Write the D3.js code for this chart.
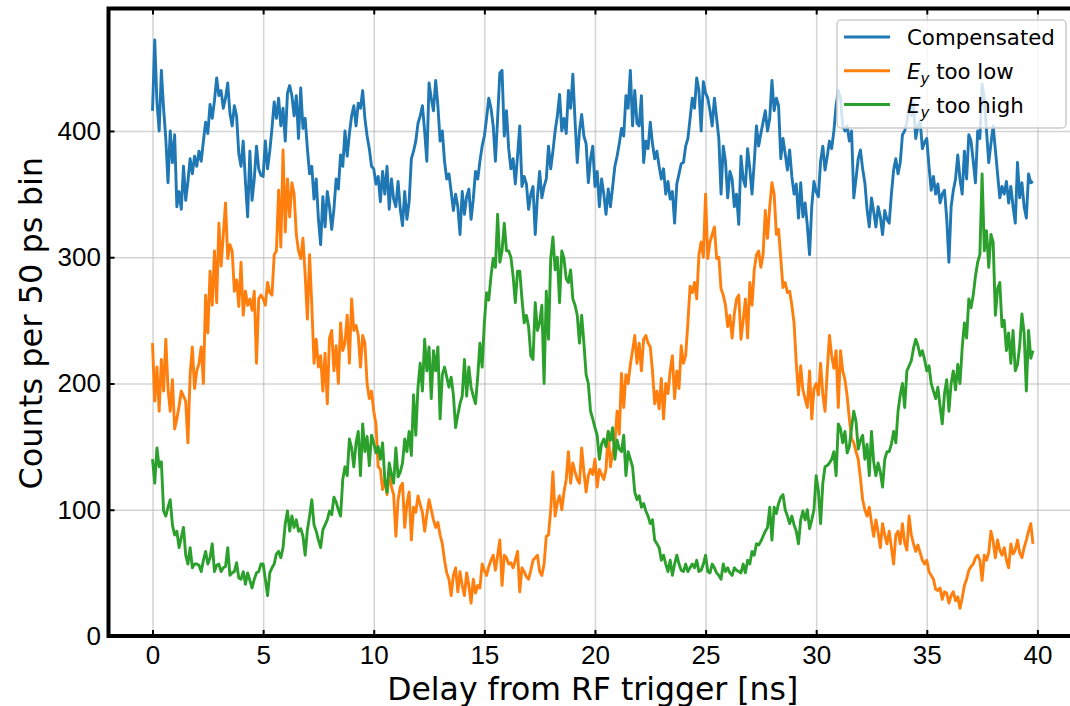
<!DOCTYPE html>
<html>
<head>
<meta charset="utf-8">
<script src="https://cdn.jsdelivr.net/npm/d3@7"></script>
<style>
  body { margin: 0; background: #fff; }
  svg { display: block; font-family: "DejaVu Sans", sans-serif; }
  .grid line { stroke: #b0b0b0; stroke-opacity: 0.55; stroke-width: 1.5; }
  .grid path { display: none; }
  .axis path { display: none; }
  .axis line { stroke: #000; stroke-width: 2; }
  .axis text { fill: #000; font-size: 26px; }
</style>
</head>
<body>
<svg id="chart"></svg>
<script>
// time bins in ns
const binWidth = 0.1;

// counts per bin
const compensated = [
  416,472,423,400,448,418,394,359,400,375, 397,340,352,338,372,345,360,378,366,380,
  372,384,376,392,407,398,421,410,424,442, 428,432,418,426,438,414,404,420,412,382,
  372,392,360,332,384,345,362,388,370,365, 364,392,370,384,402,423,410,426,404,418,
  392,430,436,428,412,428,394,434,402,410, 386,366,372,346,362,330,310,348,324,352,
  340,322,338,362,354,381,372,400,380,398, 412,420,404,422,418,432,410,396,386,372,
  370,358,364,344,368,350,372,338,362,346, 340,360,338,325,352,330,344,378,384,392,
  406,412,420,400,376,438,426,416,440,420, 392,400,376,362,366,352,337,350,340,318,
  352,334,348,354,330,346,368,362,376,388, 396,410,426,418,404,376,410,446,448,396,
  416,386,370,378,358,380,404,356,364,358, 338,350,356,318,348,368,347,356,362,388,
  370,384,400,412,429,400,410,398,432,418, 445,408,375,400,413,396,390,359,378,388,
  356,368,340,362,350,334,354,340,356,372, 380,390,402,396,428,418,448,404,432,406,
  404,428,375,392,386,407,390,378,384,372, 362,370,350,360,346,352,327,358,366,374,
  375,388,394,410,426,418,442,432,400,439, 430,426,416,404,426,410,394,350,388,376,
  347,368,362,340,350,326,380,362,356,386, 370,350,375,404,388,398,407,416,400,410,
  440,416,426,420,378,394,382,369,385,364, 350,358,331,359,332,343,325,302,340,360,
  352,348,376,388,369,380,392,386,400,420, 432,426,404,400,404,392,400,347,362,378,
  385,370,359,338,324,347,336,324,340,332, 318,337,330,327,350,369,378,366,375,397,
  400,407,420,412,422,394,404,408,386,391, 394,372,353,364,350,358,343,350,353,331,
  296,340,353,362,381,362,350,384,362,397, 392,376,359,400,394,437,426,400,375,390,
  404,385,366,347,356,350,360,343,356,340, 327,375,347,359,340,331,366,359,360
];

const eyTooLow = [
  232,186,213,178,219,194,235,196,178,203, 164,172,182,194,190,186,153,207,229,196,
  210,216,229,200,270,240,289,262,305,264, 327,293,318,343,299,310,305,273,282,261,
  296,254,273,262,267,258,273,216,267,270, 267,262,280,272,270,302,305,353,308,385,
  320,362,332,359,350,318,305,299,315,286, 251,302,262,216,235,213,222,194,224,184,
  236,242,210,230,200,248,226,232,254,216, 267,242,246,238,213,238,232,200,188,194,
  178,168,134,132,116,124,112,130,118,112, 79,108,118,121,86,105,114,76,102,98,
  111,104,98,83,96,108,100,92,86,90, 80,73,60,50,45,32,48,54,35,51,
  40,32,50,40,26,45,34,40,38,57, 52,48,55,60,64,52,64,76,40,64,
  62,57,58,54,60,67,35,54,51,47, 45,52,60,62,64,51,48,57,79,80,
  100,130,95,106,111,100,114,124,146,121, 137,130,124,121,149,130,114,127,132,128,
  140,118,132,128,124,132,162,134,145,153, 178,160,208,181,207,200,215,226,238,216,
  232,210,235,238,232,229,210,184,194,180, 204,172,200,192,210,222,188,210,196,230,
  216,222,248,277,272,280,267,302,312,300, 350,299,312,318,324,299,300,275,270,262,
  245,254,236,255,267,270,235,250,267,236, 280,262,290,302,305,292,302,337,315,340,
  359,350,318,322,299,276,280,272,273,262, 248,216,191,214,195,188,181,210,172,196,
  200,191,216,191,178,210,238,222,212,226, 181,226,210,203,190,172,156,153,146,140,
  125,108,100,95,102,90,79,92,82,70, 89,80,73,83,70,57,80,83,73,89,
  74,68,95,80,73,67,72,66,60,57, 60,51,48,45,37,36,38,29,35,34,
  26,32,35,28,31,22,30,40,45,52, 55,57,62,64,60,44,64,60,66,83,
  75,62,76,68,64,70,60,54,73,65, 68,76,66,62,70,76,83,89,73
];

const eyTooHigh = [
  140,121,149,134,138,99,95,102,108,88, 80,83,70,78,86,64,57,70,54,57,
  57,56,51,60,67,57,62,73,51,56, 57,51,54,55,70,48,50,51,58,46,
  45,51,41,50,44,38,45,50,51,57, 57,45,32,50,54,57,65,67,62,70,
  89,99,83,95,86,92,83,85,79,64, 84,95,108,88,83,76,70,84,88,92,
  99,96,110,106,100,95,124,134,127,156, 149,134,153,162,127,168,146,158,135,159,
  153,145,150,140,153,124,114,137,128,121, 149,126,130,137,156,146,162,143,191,159,
  197,216,194,235,210,229,188,226,210,229, 172,207,213,205,197,205,191,165,175,184,
  190,219,190,213,197,190,184,205,232,213, 248,272,266,285,299,292,334,296,305,327,
  305,305,300,285,264,289,289,267,248,254, 245,222,219,264,242,248,262,200,273,235,
  299,316,290,300,264,305,299,283,280,290, 267,262,254,232,254,232,207,200,178,172,
  165,159,140,152,156,150,162,155,165,140, 155,148,146,159,127,146,140,134,114,108,
  111,102,105,99,95,89,92,76,73,70, 60,64,57,51,60,48,57,64,57,52,
  51,57,51,54,57,54,60,51,52,57, 64,51,50,57,54,50,48,45,57,51,
  54,50,48,54,52,51,50,57,50,60, 57,67,64,73,72,75,79,83,86,102,
  76,102,97,105,110,112,100,95,89,95, 88,83,73,92,99,92,100,85,92,100,
  127,115,89,121,134,135,137,140,146,127, 168,164,153,162,145,150,165,178,170,148,
  155,159,140,152,127,162,138,127,137,130, 118,140,146,146,152,162,153,178,191,200,
  181,210,214,218,228,235,230,222,226,219, 210,214,200,194,188,197,182,168,192,203,
  178,200,210,195,215,200,228,248,236,267, 260,270,285,296,302,366,305,321,292,318,
  312,254,275,280,245,250,226,240,216,242, 210,215,230,255,240,194,242,220,226
];

const xTicks = [0, 5, 10, 15, 20, 25, 30, 35, 40];
const yTicks = [0, 100, 200, 300, 400];
const seriesKeys = ["compensated", "low", "high"];
const seriesColors = ["#1f77b4", "#ff7f0e", "#2ca02c"];

class DelayChart {
    constructor(_config, _data) {
        this.config = {
            parentElement: _config.parentElement,
            containerWidth: _config.containerWidth || 1070,
            containerHeight: _config.containerHeight || 706,
            margin: { top: 8.5, bottom: 70, right: -7, left: 108.5 }
        }
        this.data = _data;
        this.initVis();
    }

    initVis() {
        let vis = this;
        vis.width = vis.config.containerWidth - vis.config.margin.left - vis.config.margin.right;
        vis.height = vis.config.containerHeight - vis.config.margin.top - vis.config.margin.bottom;

        vis.xScale = d3.scaleLinear().domain([-1.99, 41.79]).range([0, vis.width]);
        vis.yScale = d3.scaleLinear().domain([0, 497]).range([vis.height, 0]);

        vis.colorPalette = d3.scaleOrdinal().domain(seriesKeys).range(seriesColors);

        vis.svg = d3.select(vis.config.parentElement)
            .attr("width", vis.config.containerWidth)
            .attr("height", vis.config.containerHeight);

        vis.chart = vis.svg.append("g")
            .attr("transform", `translate(${vis.config.margin.left},${vis.config.margin.top})`);

        vis.line = d3.line()
            .x((d, i) => vis.xScale(i * binWidth))
            .y(d => vis.yScale(d));

        vis.renderVis();
    }

    renderVis() {
        let vis = this;

        // grid
        vis.chart.append("g")
            .attr("class", "grid")
            .attr("transform", `translate(0,${vis.height})`)
            .call(d3.axisBottom(vis.xScale).tickValues(xTicks).tickSize(-vis.height).tickFormat(""));
        vis.chart.append("g")
            .attr("class", "grid")
            .call(d3.axisLeft(vis.yScale).tickValues(yTicks).tickSize(-vis.width).tickFormat(""));

        // series
        vis.chart.selectAll(".series")
            .data(vis.data)
            .join("path")
            .attr("class", "series")
            .attr("fill", "none")
            .attr("stroke", d => vis.colorPalette(d.key))
            .attr("stroke-width", 2.9)
            .attr("stroke-linejoin", "round")
            .attr("d", d => vis.line(d.values));

        // ticks pointing in
        vis.chart.append("g")
            .attr("class", "axis x-axis")
            .attr("transform", `translate(0,${vis.height})`)
            .call(d3.axisBottom(vis.xScale).tickValues(xTicks).tickSizeInner(-6).tickSizeOuter(0).tickPadding(9.5));
        vis.chart.append("g")
            .attr("class", "axis")
            .call(d3.axisTop(vis.xScale).tickValues(xTicks).tickSizeInner(-6).tickSizeOuter(0).tickFormat(""));
        vis.chart.append("g")
            .attr("class", "axis y-axis")
            .call(d3.axisLeft(vis.yScale).tickValues(yTicks).tickSizeInner(-6).tickSizeOuter(0).tickPadding(7.5));
        vis.chart.append("g")
            .attr("class", "axis")
            .attr("transform", `translate(${vis.width},0)`)
            .call(d3.axisRight(vis.yScale).tickValues(yTicks).tickSizeInner(-6).tickSizeOuter(0).tickFormat(""));

        // frame
        vis.chart.append("rect")
            .attr("width", vis.width)
            .attr("height", vis.height)
            .attr("fill", "none")
            .attr("stroke", "#000")
            .attr("stroke-width", 4);

        // axis labels
        vis.svg.append("text")
            .attr("x", vis.config.margin.left + vis.xScale(19.9))
            .attr("y", 699.5)
            .attr("text-anchor", "middle")
            .style("font-size", "31.5px")
            .text("Delay from RF trigger [ns]");

        vis.svg.append("text")
            .attr("transform", `translate(42,${vis.config.margin.top + vis.height / 2 + 1}) rotate(-90)`)
            .attr("text-anchor", "middle")
            .style("font-size", "32px")
            .text("Counts per 50 ps bin");

        // legend
        let lg = vis.svg.append("g").attr("transform", "translate(837,20)");
        lg.append("rect")
            .attr("width", 229)
            .attr("height", 108)
            .attr("rx", 4)
            .attr("fill", "#fff")
            .attr("fill-opacity", 0.8)
            .attr("stroke", "#cccccc")
            .attr("stroke-width", 1.5);

        let rows = lg.selectAll(".legend-row")
            .data(vis.data)
            .join("g")
            .attr("class", "legend-row")
            .attr("transform", (d, i) => `translate(0,${17 + i * 33.8})`);

        rows.append("line")
            .attr("x1", 7).attr("x2", 53)
            .attr("stroke", d => vis.colorPalette(d.key))
            .attr("stroke-width", 3);

        rows.append("text")
            .attr("x", 70)
            .attr("y", 8)
            .style("font-size", "21.3px")
            .each(function (d) {
                let t = d3.select(this);
                if (d.key === "compensated") {
                    t.text("Compensated");
                } else {
                    t.append("tspan").attr("font-style", "italic").text("E");
                    t.append("tspan").attr("font-style", "italic").attr("font-size", "15px").attr("dy", 5).text("y");
                    t.append("tspan").attr("dy", -5).text(d.key === "low" ? " too low" : " too high");
                }
            });
    }
}

const seriesData = [
    { key: "compensated", values: compensated },
    { key: "low", values: eyTooLow },
    { key: "high", values: eyTooHigh }
];

new DelayChart({ parentElement: "#chart" }, seriesData);
</script>
</body>
</html>
